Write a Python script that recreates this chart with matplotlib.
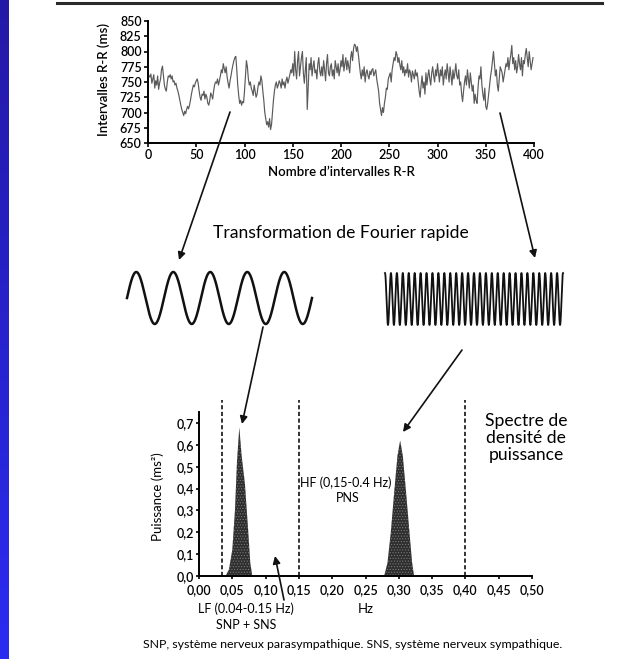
import numpy as np
import matplotlib
matplotlib.use("Agg")
import matplotlib.pyplot as plt
from matplotlib.lines import Line2D
from matplotlib.patches import FancyArrowPatch
from matplotlib.colors import LinearSegmentedColormap

plt.rcParams['font.family'] = ['Lato', 'DejaVu Sans']
plt.rcParams['hatch.linewidth'] = 0.5

W, H = 633, 659

# ---------------- data ----------------
rr_intervals = [
    765, 760, 758, 763, 748, 755, 762, 740, 752, 745, 760, 738, 748, 755, 770, 776, 760, 745, 738, 735,
    750, 760, 758, 762, 755, 760, 750, 752, 745, 748, 740, 735, 728, 720, 712, 705, 700, 695, 702, 698,
    705, 710, 706, 712, 720, 730, 738, 745, 742, 748, 752, 755, 748, 735, 725, 720, 730, 728, 735, 722,
    730, 725, 715, 712, 720, 732, 728, 722, 735, 745, 750, 748, 755, 745, 752, 760, 770, 765, 780, 772,
    765, 775, 758, 748, 740, 752, 760, 770, 778, 785, 790, 792, 770, 745, 728, 715, 720, 712, 718, 716,
    735, 760, 785, 775, 755, 745, 750, 740, 735, 728, 745, 735, 725, 730, 742, 750, 745, 760, 752, 735,
    720, 700, 690, 680, 685, 676, 690, 672, 680, 700, 720, 735, 745, 750, 740, 745, 752, 748, 740, 755,
    745, 750, 740, 752, 758, 748, 755, 762, 770, 765, 780, 760, 800, 770, 755, 785, 800, 760, 775, 790,
    800, 765, 748, 770, 790, 705, 740, 780, 770, 790, 760, 775, 785, 765, 770, 755, 780, 790, 768, 760,
    775, 760, 785, 770, 752, 780, 795, 765, 760, 775, 780, 760, 770, 755, 785, 775, 765, 780, 760, 770,
    785, 775, 795, 768, 780, 790, 770, 785, 775, 765, 790, 800, 785, 805, 812, 810, 800, 808, 795, 780,
    765, 755, 770, 760, 775, 750, 765, 770, 760, 755, 768, 762, 770, 772, 760, 765, 770, 755, 745, 735,
    715, 705, 695, 708, 700, 715, 725, 740, 738, 755, 760, 765, 750, 770, 780, 790, 785, 800, 795, 782,
    790, 778, 770, 785, 765, 775, 760, 770, 765, 780, 758, 770, 765, 750, 768, 762, 755, 770, 760, 765,
    750, 735, 725, 745, 760, 740, 750, 730, 765, 745, 760, 770, 755, 745, 765, 775, 760, 750, 770, 760,
    780, 765, 750, 770, 760, 775, 745, 760, 770, 755, 780, 765, 750, 775, 760, 745, 770, 755, 765, 780,
    760, 755, 770, 745, 750, 730, 718, 735, 750, 760, 745, 770, 755, 740, 765, 750, 735, 745, 715, 730,
    720, 715, 740, 760, 755, 775, 745, 730, 720, 740, 710, 705, 715, 730, 745, 760, 770, 785, 800, 780,
    760, 770, 745, 735, 755, 775, 770, 765, 750, 760, 770, 780, 775, 790, 770, 785, 795, 810, 780, 790,
    770, 785, 765, 775, 795, 780, 770, 790, 760, 785, 780, 795, 805, 790, 775, 800, 785, 770, 780, 790,
]
rr_xticks = [0, 50, 100, 150, 200, 250, 300, 350, 400]
rr_yticks = [650, 675, 700, 725, 750, 775, 800, 825, 850]

lf_freq = [0.040, 0.045, 0.050, 0.054, 0.057, 0.0605, 0.064, 0.069, 0.074, 0.077, 0.080]
lf_power = [0.0, 0.03, 0.12, 0.30, 0.52, 0.68, 0.55, 0.42, 0.20, 0.06, 0.0]
hf_freq = [0.278, 0.283, 0.288, 0.293, 0.298, 0.302, 0.306, 0.311, 0.316, 0.320, 0.323]
hf_power = [0.0, 0.06, 0.20, 0.38, 0.55, 0.62, 0.55, 0.38, 0.20, 0.06, 0.0]
band_limits = [0.035, 0.15, 0.40]
psd_xticks = [0.00, 0.05, 0.10, 0.15, 0.20, 0.25, 0.30, 0.35, 0.40, 0.45, 0.50]
psd_xticklabels = ["0,00", "0,05", "0,10", "0,15", "0,20", "0,25", "0,30", "0,35", "0,40", "0,45", "0,50"]
psd_yticks = [0.0, 0.1, 0.2, 0.3, 0.4, 0.5, 0.6, 0.7]
psd_yticklabels = ["0,0", "0,1", "0,2", "0,3", "0,4", "0,5", "0,6", "0,7"]

slow_wave_cycles = 5
fast_wave_cycles = 30

# ---------------- helpers ----------------
def fx(x):
    return x / W

def fy(y):
    return 1 - y / H

def box(x0, y0, x1, y1):
    return [fx(x0), fy(y1), (x1 - x0) / W, (y1 - y0) / H]

def ptext(x, y, s, **kw):
    kw.setdefault('ha', 'center')
    kw.setdefault('va', 'center')
    return fig.text(fx(x), fy(y), s, **kw)

fig = plt.figure(figsize=(W / 100, H / 100), dpi=100)
fig.patch.set_facecolor('white')

# blue stripe on the left
ax_bl = fig.add_axes(box(0, 0, 9, H))
grad = np.linspace(0, 1, 256).reshape(-1, 1)
cmap_blue = LinearSegmentedColormap.from_list('b', ['#2419a6', '#2b2cf2'])
ax_bl.imshow(grad, aspect='auto', cmap=cmap_blue, extent=[0, 1, 1, 0])
ax_bl.axis('off')

# top rule
fig.add_artist(Line2D([fx(57), fx(602)], [fy(2.5), fy(2.5)], color='#2a2a2a', lw=2.2))

# ---------------- top plot: RR intervals ----------------
ax1 = fig.add_axes(box(148, 21, 534, 143))
beats = np.arange(len(rr_intervals))
ax1.plot(beats, rr_intervals, color='#5a5a5a', lw=0.85)
ax1.set_xlim(0, 400)
ax1.set_ylim(650, 850)
ax1.set_xticks(rr_xticks)
ax1.set_yticks(rr_yticks)
for s in ['top', 'right']:
    ax1.spines[s].set_visible(False)
for s in ['left', 'bottom']:
    ax1.spines[s].set_linewidth(1.4)
ax1.tick_params(direction='out', length=3, width=1.2, labelsize=9, pad=1.5)
for lab in ax1.get_xticklabels() + ax1.get_yticklabels():
    lab.set_fontweight('semibold')
ptext(341, 172, "Nombre d’intervalles R-R", fontsize=9.5, fontweight='semibold')
ptext(104, 80, "Intervalles R-R (ms)", fontsize=9.5, rotation=90, fontweight='semibold')

# ---------------- title in the middle ----------------
ptext(341, 233, "Transformation de Fourier rapide", fontsize=12.6)

# ---------------- sinusoid illustrations ----------------
ax_s = fig.add_axes(box(127, 272, 312, 324))
t = np.linspace(0, 1, 600)
ax_s.plot(t, np.sin(2 * np.pi * slow_wave_cycles * t), color='#111111', lw=1.8, clip_on=False)
ax_s.set_xlim(0, 1)
ax_s.set_ylim(-1, 1)
ax_s.axis('off')

ax_f = fig.add_axes(box(385, 273, 563, 325))
t2 = np.linspace(0, 1, 3000)
ax_f.plot(t2, np.sin(2 * np.pi * fast_wave_cycles * t2 + np.pi / 2), color='#111111', lw=1.3,
          clip_on=False)
ax_f.set_xlim(0, 1)
ax_f.set_ylim(-1, 1)
ax_f.axis('off')

# ---------------- bottom plot: PSD ----------------
ax2 = fig.add_axes(box(199, 412, 532, 576))
for fr, pw in [(lf_freq, lf_power), (hf_freq, hf_power)]:
    ax2.fill_between(fr, pw, facecolor='#2e2e2e', edgecolor='#7a7a7a', hatch='......', lw=0)
ax2.vlines(band_limits, 0, 0.805, colors='#111111', linestyles=(0, (2.5, 1.5)), lw=1.2,
           clip_on=False)
ax2.set_xlim(0, 0.5)
ax2.set_ylim(0, 0.75)
ax2.set_xticks(psd_xticks)
ax2.set_xticklabels(psd_xticklabels)
ax2.set_yticks(psd_yticks)
ax2.set_yticklabels(psd_yticklabels)
for s in ['top', 'right']:
    ax2.spines[s].set_visible(False)
for s in ['left', 'bottom']:
    ax2.spines[s].set_linewidth(1.4)
ax2.tick_params(axis='y', direction='out', length=2.5, width=1.2, labelsize=9, pad=1)
ax2.tick_params(axis='x', direction='out', length=2.5, width=1.2, labelsize=9, pad=3.5)
for lab in ax2.get_xticklabels() + ax2.get_yticklabels():
    lab.set_fontweight('semibold')
ptext(158, 497, "Puissance (ms²)", fontsize=9.5, rotation=90)

ptext(346, 483, "HF (0,15-0.4 Hz)", fontsize=9)
ptext(348, 498, "PNS", fontsize=9)
ptext(526, 438, "Spectre de\ndensité de\npuissance", fontsize=12.6, linespacing=1.1)
ptext(246, 609, "LF (0.04-0.15 Hz)", fontsize=9)
ptext(246, 625, "SNP + SNS", fontsize=9)
ptext(366, 609, "Hz", fontsize=9.5)
ptext(353, 645, "SNP, système nerveux parasympathique. SNS, système nerveux sympathique.",
      fontsize=8.9)

# ---------------- arrows ----------------
arrows = [((230, 112), (179, 260)),
          ((500, 113), (535, 258)),
          ((263, 327), (242, 424)),
          ((462, 350), (403, 432)),
          ((284, 600), (275, 556))]
for (x0, y0), (x1, y1) in arrows:
    a = FancyArrowPatch((fx(x0), fy(y0)), (fx(x1), fy(y1)), transform=fig.transFigure,
                        arrowstyle='-|>', mutation_scale=11, lw=1.2, color='#111111',
                        shrinkA=0, shrinkB=0)
    fig.add_artist(a)

fig.savefig("out.png", dpi=100, facecolor='white')
